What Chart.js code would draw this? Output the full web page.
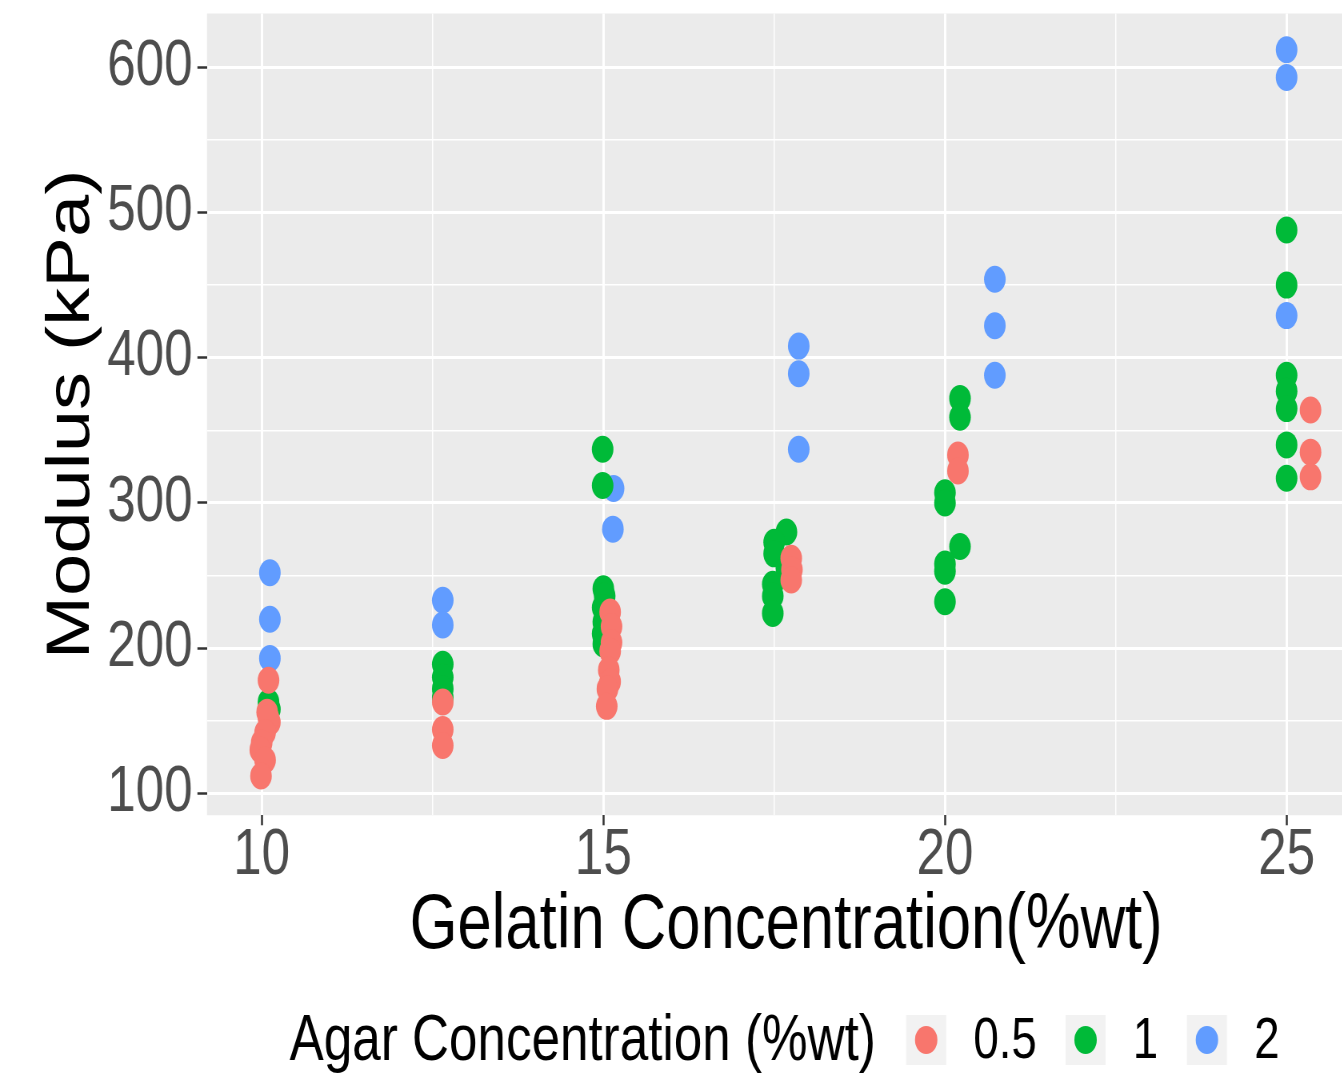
<!DOCTYPE html>
<html>
<head>
<meta charset="utf-8">
<script src="https://cdn.jsdelivr.net/npm/chart.js@4.4.0/dist/chart.umd.min.js"></script>
<style>
  html, body { margin: 0; padding: 0; background: #fff; overflow: hidden; }
  #wrap { width: 1342px; height: 1074px; overflow: hidden; }
  #chart { display: block; transform: scaleX(0.8); transform-origin: 0 0; }
</style>
</head>
<body>
<div id="wrap"><canvas id="chart" width="1720" height="1074"></canvas></div>
<script>
// legend levels
var agarLevels = ['0.5', '1', '2'];
var agarColors = ['#F8766D', '#00BA38', '#619CFF'];

// agar 0.5 %wt
var gelatin05 = [10.10, 10.08, 10.12, 10.10, 10.05, 10.00, 9.98, 10.05, 9.99,
                 12.65, 12.65, 12.65,
                 15.10, 15.12, 15.12, 15.10, 15.08, 15.10, 15.06, 15.05,
                 17.75, 17.76, 17.75,
                 20.19, 20.19,
                 25.35, 25.35, 25.35];
var modulus05 = [178, 156, 149, 152, 142, 135, 130, 123, 112,
                 163, 144, 133,
                 225, 215, 204, 198, 185, 177, 172, 160,
                 262, 254, 247,
                 333, 322,
                 364, 335, 318];

// agar 1 %wt
var gelatin1 = [10.10, 10.12,
                12.65, 12.65, 12.65, 12.65,
                14.99, 14.99, 15.00, 15.02, 14.99, 15.00, 14.99, 15.00,
                17.68, 17.50, 17.50, 17.68, 17.48, 17.48, 17.48,
                20.22, 20.22, 20.00, 20.00, 20.22, 20.00, 20.00, 20.00,
                25.00, 25.00, 25.00, 25.00, 25.00, 25.00, 25.00];
var modulus1 = [163, 158,
                189, 180, 172, 166,
                337, 312, 241, 236, 228, 218, 210, 203,
                280, 273, 265, 255, 244, 236, 224,
                372, 359, 307, 300, 270, 258, 253, 232,
                488, 450, 388, 377, 365, 340, 317];

// agar 2 %wt
var gelatin2 = [10.12, 10.12, 10.12, 12.65, 12.65, 15.15, 15.14,
                17.86, 17.86, 17.86, 20.73, 20.73, 20.73, 25.00, 25.00, 25.00];
var modulus2 = [252, 220, 193, 233, 216, 310, 282,
                408, 389, 337, 454, 422, 388, 612, 593, 429];

var xTicks = [10, 12.5, 15, 17.5, 20, 22.5, 25];
var xTickLabels = ['10', '', '15', '', '20', '', '25'];
var yTicks = [100, 150, 200, 250, 300, 350, 400, 450, 500, 550, 600];
var yTickLabels = ['100', '', '200', '', '300', '', '400', '', '500', '', '600'];

function toPoints(xs, ys) {
    return xs.map(function(x, i) { return {x: x, y: ys[i]}; });
}

var seriesX = [gelatin05, gelatin1, gelatin2];
var seriesY = [modulus05, modulus1, modulus2];

var FONT = '"Liberation Sans", Arial, Helvetica, sans-serif';

var panelBg = {
    id: 'panelBg',
    beforeDraw: function(chart) {
        var a = chart.chartArea, ctx = chart.ctx;
        ctx.save();
        ctx.fillStyle = '#ebebeb';
        ctx.fillRect(a.left, a.top, a.right - a.left, a.bottom - a.top);
        ctx.restore();
    }
};

// ggplot-like legend: title and keys on one row
var rowLegend = {
    id: 'rowLegend',
    afterDraw: function(chart) {
        var ctx = chart.ctx;
        var cy = 1040;
        var x = 362;
        ctx.save();
        ctx.textBaseline = 'middle';
        ctx.fillStyle = '#000';
        ctx.font = '64px ' + FONT;
        ctx.fillText('Agar Concentration (%wt)', x, cy + 2);
        x += ctx.measureText('Agar Concentration (%wt)').width + 38;
        ctx.font = '57px ' + FONT;
        agarLevels.forEach(function(lvl, i) {
            ctx.fillStyle = '#f2f2f2';
            ctx.fillRect(x, cy - 25, 50, 50);
            ctx.fillStyle = agarColors[i];
            ctx.beginPath();
            ctx.arc(x + 25, cy, 14, 0, Math.PI * 2);
            ctx.fill();
            x += 50 + 34;
            ctx.fillStyle = '#000';
            ctx.fillText(lvl, x, cy + 2);
            x += ctx.measureText(lvl).width + 36;
        });
        ctx.restore();
    }
};

function isMajor(labels, i) { return labels[i] !== ''; }

new Chart(document.getElementById('chart').getContext('2d'), {
    type: 'scatter',
    data: {
        datasets: agarLevels.map(function(lvl, i) {
            return {
                label: lvl,
                data: toPoints(seriesX[i], seriesY[i]),
                backgroundColor: agarColors[i],
                borderWidth: 0,
                pointRadius: 13.5,
                pointHoverRadius: 13.5
            };
        })
    },
    options: {
        responsive: false,
        animation: false,
        devicePixelRatio: 1,
        events: [],
        layout: { padding: { top: 12, right: 9, left: 0, bottom: 100 } },
        plugins: { legend: { display: false }, tooltip: { enabled: false } },
        scales: {
            x: {
                type: 'linear',
                min: 9.20,
                max: 26.15,
                afterBuildTicks: function(scale) {
                    scale.ticks = xTicks.map(function(v) { return {value: v}; });
                },
                border: { display: false },
                grid: {
                    color: '#ffffff',
                    lineWidth: function(c) { return isMajor(xTickLabels, c.index) ? 3 : 1.5; },
                    tickColor: function(c) { return isMajor(xTickLabels, c.index) ? '#333333' : 'rgba(0,0,0,0)'; },
                    tickWidth: 2.5,
                    tickLength: 10
                },
                ticks: {
                    autoSkip: false,
                    maxRotation: 0,
                    padding: 0,
                    color: '#4d4d4d',
                    font: { family: FONT, size: 64, lineHeight: 0.98 },
                    callback: function(v, i) { return xTickLabels[i]; }
                },
                title: {
                    display: true,
                    text: 'Gelatin Concentration(%wt)',
                    color: '#000',
                    font: { family: FONT, size: 77, lineHeight: 1.0 },
                    padding: { top: 0, bottom: 9 }
                }
            },
            y: {
                type: 'linear',
                min: 85,
                max: 637,
                afterBuildTicks: function(scale) {
                    scale.ticks = yTicks.map(function(v) { return {value: v}; });
                },
                border: { display: false },
                grid: {
                    color: '#ffffff',
                    lineWidth: function(c) { return isMajor(yTickLabels, c.index) ? 3 : 1.5; },
                    tickColor: function(c) { return isMajor(yTickLabels, c.index) ? '#333333' : 'rgba(0,0,0,0)'; },
                    tickWidth: 2.5,
                    tickLength: 12
                },
                ticks: {
                    autoSkip: false,
                    padding: 6,
                    color: '#4d4d4d',
                    font: { family: FONT, size: 64, lineHeight: 0.1 },
                    callback: function(v, i) { return yTickLabels[i]; }
                },
                title: {
                    display: true,
                    text: 'Modulus (kPa)',
                    color: '#000',
                    font: { family: FONT, size: 76, lineHeight: 1.0 },
                    padding: { top: 52, bottom: 0 }
                }
            }
        }
    },
    plugins: [panelBg, rowLegend]
});
</script>
</body>
</html>
